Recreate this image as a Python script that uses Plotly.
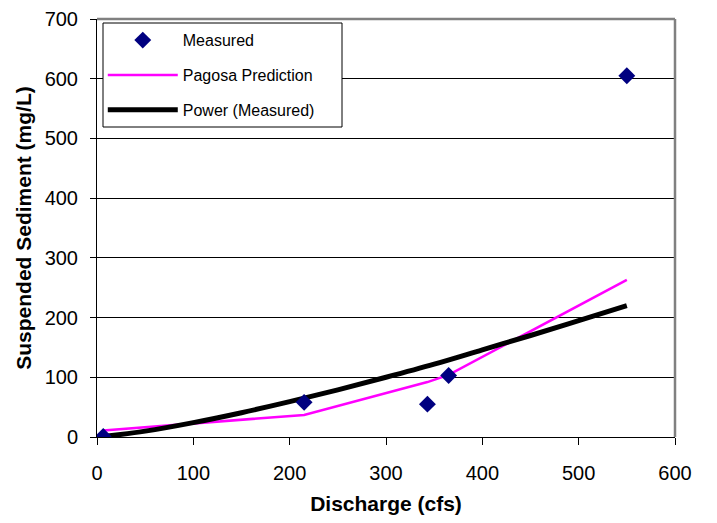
import plotly.graph_objects as go

# Measured data
meas_x = [6.5, 215, 343, 365, 550]
meas_y = [1, 58, 55, 103, 605]

# Pagosa prediction
pag_x = [6.5, 215, 343, 365, 550]
pag_y = [11, 37, 92, 104, 263]

# Power trendline
pow_x = [6.5, 50, 100, 150, 200, 250, 300, 350, 400, 450, 500, 550]
pow_y = [0.7, 9.8, 24.1, 40.7, 59.2, 79, 100, 122, 146, 170, 195, 220]

x_ticks = [0, 100, 200, 300, 400, 500, 600]
y_ticks = [0, 100, 200, 300, 400, 500, 600, 700]

FONT = "Liberation Sans, Arial, sans-serif"
BODY = 8  # default browser body margin in the written page

fig = go.Figure()
fig.add_trace(go.Scatter(x=pag_x, y=pag_y, mode="lines", name="Pagosa Prediction",
                         line=dict(color="#FF00FF", width=2.5), legendgroup="b", legendrank=2))
fig.add_trace(go.Scatter(x=pow_x, y=pow_y, mode="lines", name="Power (Measured)",
                         line=dict(color="#000000", width=5, shape="spline"),
                         legendgroup="c", legendrank=3))
fig.add_trace(go.Scatter(x=meas_x, y=meas_y, mode="markers", name="Measured",
                         marker=dict(symbol="diamond", color="#000080", size=13),
                         legendgroup="a", legendrank=1))

fig.update_layout(
    width=717 - BODY, height=523 - BODY,
    margin=dict(l=97 - BODY, r=42, t=19 - BODY, b=86),
    paper_bgcolor="white", plot_bgcolor="white",
    font=dict(family=FONT, size=20, color="black"),
    legend=dict(x=0.01, y=0.99, xanchor="left", yanchor="top",
                borderwidth=0, bgcolor="rgba(0,0,0,0)",
                font=dict(size=16), tracegroupgap=11, itemwidth=70,
                traceorder="grouped"),
    xaxis=dict(range=[0, 600], tickvals=x_ticks, showgrid=False, zeroline=False,
               showline=True, linecolor="black", linewidth=1, mirror=False,
               ticks="outside", ticklen=7, tickcolor="black", automargin=False,
               ticklabelstandoff=11,
               title=dict(text="<b>Discharge (cfs)</b>", font=dict(size=21), standoff=13)),
    yaxis=dict(range=[0, 700], tickvals=y_ticks, showgrid=True, gridcolor="black", gridwidth=1,
               zeroline=False, showline=True, linecolor="black", linewidth=1,
               ticks="outside", ticklen=6, tickcolor="black", automargin=False,
               ticklabelstandoff=8,
               title=dict(text="<b>Suspended Sediment (mg/L)</b>", font=dict(size=21), standoff=7)),
    showlegend=True,
)
# legend box (white fill, black border)
fig.add_shape(type="rect", xref="paper", yref="paper",
              x0=0.0104, x1=0.4239, y0=0.7416, y1=0.9904,
              fillcolor="white", line=dict(color="black", width=1), layer="above")
# gray plot-area border on top and right
fig.add_shape(type="line", xref="paper", yref="paper", x0=0, x1=1, y0=1, y1=1,
              line=dict(color="#808080", width=2.5))
fig.add_shape(type="line", xref="paper", yref="paper", x0=1, x1=1, y0=0, y1=1,
              line=dict(color="#808080", width=2.5))

fig.write_html("out.html")
